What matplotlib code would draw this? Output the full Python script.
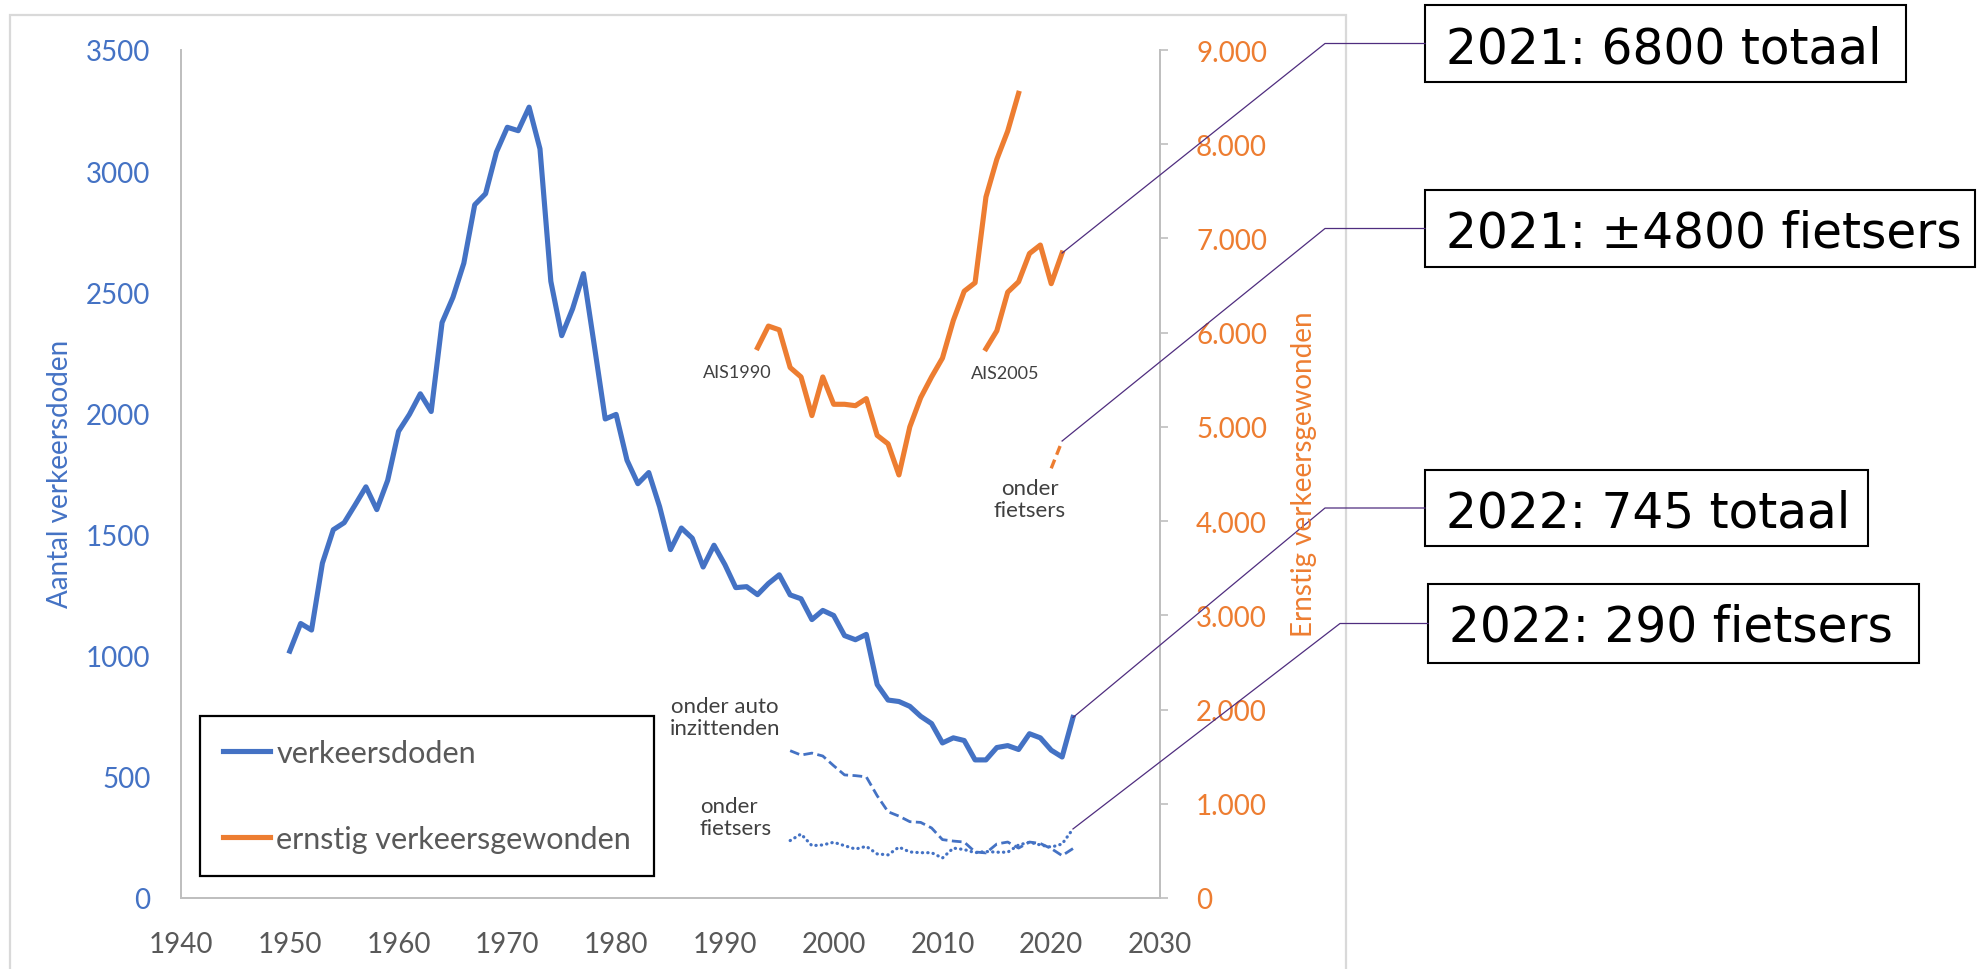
import matplotlib
matplotlib.use('Agg')
import matplotlib.pyplot as plt
from matplotlib.lines import Line2D
from matplotlib.patches import Rectangle
from matplotlib.ticker import FuncFormatter

plt.rcParams['font.family'] = ['Lato', 'DejaVu Sans']

BLUE = '#4472C4'
ORANGE = '#ED7D31'
GREY = '#595959'
DARK = '#404040'
AXIS = '#BFBFBF'
PURPLE = '#4F2D7F'

# verkeersdoden 1950-2022
years_doden = list(range(1950, 2023))
doden = [1019, 1133, 1106, 1382, 1520, 1549, 1622, 1697, 1603, 1724,
         1926, 1996, 2081, 2008, 2375, 2479, 2620, 2861, 2907, 3079,
         3181, 3167, 3264, 3092, 2545, 2321, 2432, 2577, 2279, 1977,
         1996, 1807, 1710, 1756, 1615, 1438, 1527, 1485, 1366, 1456,
         1376, 1281, 1285, 1252, 1298, 1334, 1251, 1235, 1149, 1187,
         1166, 1083, 1066, 1088, 881, 817, 811, 791, 750, 720,
         640, 661, 650, 570, 570, 621, 629, 613, 678, 661,
         610, 582, 745]

# doden onder auto-inzittenden en fietsers 1996-2022
years_sub = list(range(1996, 2023))
auto = [608, 590, 598, 586, 546, 508, 505, 500, 422, 356,
        338, 315, 312, 289, 241, 235, 231, 190, 186, 223,
        231, 206, 231, 225, 204, 175, 204]
fiets = [237, 264, 216, 219, 230, 216, 202, 213, 182, 178,
         210, 190, 187, 187, 165, 206, 200, 187, 192, 189,
         189, 219, 230, 219, 210, 223, 285]

# ernstig verkeersgewonden
years_ais1990 = list(range(1993, 2018))
ais1990 = [5840, 6070, 6030, 5630, 5530, 5120, 5530, 5240, 5240, 5225,
           5300, 4910, 4820, 4490, 5000, 5310, 5530, 5730, 6130, 6440,
           6530, 7440, 7840, 8140, 8540]
years_ais2005 = list(range(2014, 2022))
ais2005 = [5830, 6020, 6430, 6540, 6840, 6930, 6520, 6845]
years_gew_fiets = [2020, 2021]
gew_fiets = [4560, 4850]

W, H = 1982, 970
fig = plt.figure(figsize=(W / 100, H / 100), dpi=100)


def fx(x):
    return x / W


def fy(y):
    return 1 - y / H


# outer chart border (Excel chart area)
fig.add_artist(Rectangle((fx(10), fy(1000)), fx(1346) - fx(10), fy(16) - fy(1000),
                         transform=fig.transFigure, fill=False,
                         edgecolor='#D9D9D9', lw=1.6))

ax = fig.add_axes([fx(181), fy(899), fx(1160) - fx(181), fy(51) - fy(899)])
ax2 = ax.twinx()

ax.plot(years_doden, doden, color=BLUE, lw=3.7, solid_joinstyle='round',
        label='verkeersdoden')
ax.plot(years_sub, auto, color=BLUE, lw=2.0, dashes=(3.5, 1.6))
ax.plot(years_sub, fiets, color=BLUE, lw=2.3, linestyle=(0, (0.1, 1.6)),
        dash_capstyle='round')

ax2.plot(years_ais1990, ais1990, color=ORANGE, lw=3.7, solid_joinstyle='round',
         label='ernstig verkeersgewonden')
ax2.plot(years_ais2005, ais2005, color=ORANGE, lw=3.7, solid_joinstyle='round')
ax2.plot(years_gew_fiets, gew_fiets, color=ORANGE, lw=2.4, dashes=(2.8, 1.6))

ax.set_xlim(1940, 2030)
ax.set_ylim(0, 3500)
ax2.set_ylim(0, 9000)
ax.set_xticks(range(1940, 2031, 10))
ax.set_yticks(range(0, 3501, 500))
ax2.set_yticks(range(0, 9001, 1000))
ax2.yaxis.set_major_formatter(FuncFormatter(lambda v, p: f'{int(v):,}'.replace(',', '.')))

for a in (ax, ax2):
    a.set_facecolor('none')
    a.spines['top'].set_visible(False)
    for s in ('left', 'right', 'bottom'):
        a.spines[s].set_color(AXIS)
        a.spines[s].set_linewidth(1.3)

ax.tick_params(axis='y', length=0, pad=22, labelsize=20, labelcolor=BLUE)
ax.tick_params(axis='x', length=0, pad=24, labelsize=20, labelcolor=GREY)
ax2.tick_params(axis='y', length=6, width=1.2, color=AXIS, pad=20,
                labelsize=20, labelcolor=ORANGE)

fig.text(fx(60), fy(474), 'Aantal verkeersdoden', rotation=90, ha='center',
         va='center', fontsize=20, color=BLUE)
fig.text(fx(1304), fy(474), 'Ernstig verkeersgewonden', rotation=90, ha='center',
         va='center', fontsize=20, color=ORANGE)

# small labels near the lines
ax.text(1991.1, 2171, 'AIS1990', ha='center', va='center', fontsize=13, color=DARK)
ax.text(2015.8, 2167, 'AIS2005', ha='center', va='center', fontsize=13, color=DARK)
ax.text(2018.0, 1647, 'onder\nfietsers', ha='center', va='center', fontsize=16,
        color=DARK, linespacing=1.15)
ax.text(1990.0, 747, 'onder auto\ninzittenden', ha='center', va='center', fontsize=16,
        color=DARK, linespacing=1.1)
ax.text(1987.7, 334, 'onder\nfietsers', ha='left', va='center', fontsize=16,
        color=DARK, linespacing=1.1)

handles = [Line2D([], [], color=BLUE, lw=3.7), Line2D([], [], color=ORANGE, lw=3.7)]
leg = ax2.legend(handles, ['verkeersdoden', 'ernstig verkeersgewonden'],
                 loc='upper left', bbox_to_anchor=(0.0194, 0.2146),
                 borderaxespad=0, fontsize=22, labelcolor=GREY, fancybox=False,
                 frameon=True, edgecolor='black', framealpha=1,
                 handlelength=1.55, handletextpad=0.2, labelspacing=1.9,
                 borderpad=0.75)
leg.get_frame().set_linewidth(1.6)

# annotation boxes with connector lines
notes = [
    ('2021: 6800 totaal', ax2, (2021, ais2005[-1]), 1325, (1425, 6, 1906, 83)),
    ('2021: \u00b14800 fietsers', ax2, (2021, gew_fiets[-1]), 1325, (1425, 191, 1975, 268)),
    ('2022: 745 totaal', ax, (2022, doden[-1]), 1325, (1425, 471, 1868, 547)),
    ('2022: 290 fietsers', ax, (2022, fiets[-1]), 1340, (1428, 585, 1919, 664)),
]
inv = fig.transFigure.inverted()
for text, a, pt, kink_x, (x0, y0, x1, y1) in notes:
    sx, sy = inv.transform(a.transData.transform(pt))
    ymid = fy((y0 + y1) / 2)
    fig.add_artist(Line2D([sx, fx(kink_x), fx(x0)], [sy, ymid, ymid],
                          transform=fig.transFigure, color=PURPLE, lw=0.9))
    fig.add_artist(Rectangle((fx(x0), fy(y1)), fx(x1) - fx(x0), fy(y0) - fy(y1),
                             transform=fig.transFigure, facecolor='white',
                             edgecolor='black', lw=1.5))
    fig.text(fx(x0 + 21), fy(y0 + 57), text, ha='left', va='baseline',
             fontsize=35, color='black', family='DejaVu Sans')

fig.savefig('out.png', dpi=100)
